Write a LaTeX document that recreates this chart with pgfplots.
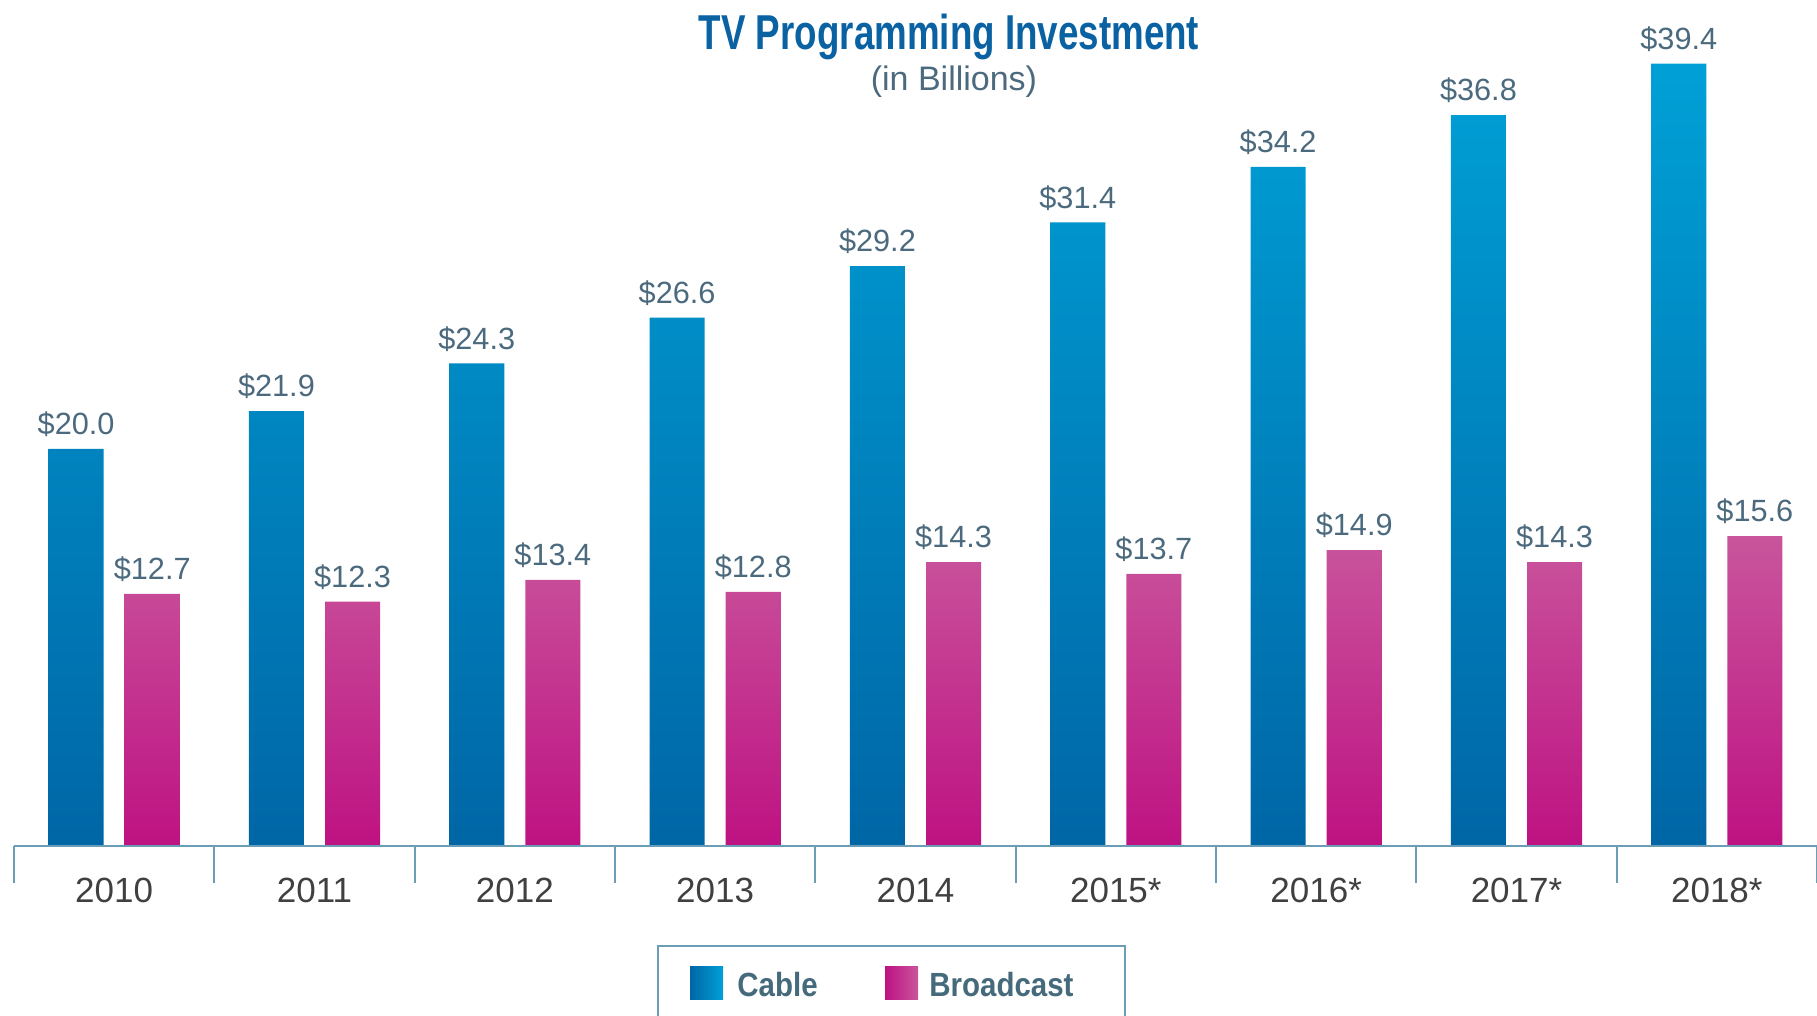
\documentclass[border=0pt]{standalone}
\usepackage{fontspec}
\setmainfont{Liberation Sans}
\newfontfamily\titlefont[FakeStretch=0.75]{Liberation Sans}
\newfontfamily\legendfont[FakeStretch=0.88]{Liberation Sans}
\usepackage{pgfplots}
\pgfplotsset{compat=1.18}

\definecolor{cabletop}{HTML}{00A0D6}
\definecolor{cablebot}{HTML}{0066A6}
\definecolor{bcasttop}{HTML}{C9559C}
\definecolor{bcastbot}{HTML}{BE1282}
\definecolor{axisblue}{HTML}{6B9DB6}
\definecolor{labelslate}{HTML}{4C6A7E}
\definecolor{yeargray}{HTML}{404040}
\definecolor{titleblue}{HTML}{0A62A3}
\definecolor{legendtext}{HTML}{456A7C}

\begin{document}
\begin{tikzpicture}
% 1 px of the reference = 0.5pt
\begin{axis}[
    at={(7pt,-423pt)}, anchor=south west,
    scale only axis, width=901.5pt, height=423pt,
    xmin=-0.5, xmax=8.5, ymin=0, ymax=42.6,
    axis x line=bottom, axis y line=none,
    axis line style={-, draw=axisblue, line width=1pt},
    xtick={-0.5,0.5,1.5,2.5,3.5,4.5,5.5,6.5,7.5,8.5},
    xticklabels={},
    ytick=\empty,
    major tick length=18.5pt, tick align=outside,
    tick style={draw=axisblue, line width=1pt},
    ybar, bar width=0.275,
    clip=false, axis on top,
    /pgf/number format/assume math mode=true,
    nodes near coords={\$\pgfmathprintnumber[fixed,fixed zerofill,precision=1]{\pgfplotspointmeta}},
    every node near coord/.append style={anchor=south, inner sep=0pt, text depth=0pt,
        yshift=7pt, font=\fontsize{15.35}{18}\selectfont, text=labelslate},
]
% Cable
\addplot[bar shift=-0.19, draw=none, top color=cabletop, bottom color=cablebot]
  coordinates {(0,20.0)(1,21.9)(2,24.3)(3,26.6)(4,29.2)(5,31.4)(6,34.2)(7,36.8)(8,39.4)};
% Broadcast
\addplot[bar shift=0.19, draw=none, top color=bcasttop, bottom color=bcastbot]
  coordinates {(0,12.7)(1,12.3)(2,13.4)(3,12.8)(4,14.3)(5,13.7)(6,14.9)(7,14.3)(8,15.6)};

\tikzset{yearlab/.style={anchor=base, font=\fontsize{17.5}{20}\selectfont, text=yeargray}}
\node[yearlab] at (axis cs:0,-2.82) {2010};
\node[yearlab] at (axis cs:1,-2.82) {2011};
\node[yearlab] at (axis cs:2,-2.82) {2012};
\node[yearlab] at (axis cs:3,-2.82) {2013};
\node[yearlab] at (axis cs:4,-2.82) {2014};
\node[yearlab] at (axis cs:5,-2.82) {2015*};
\node[yearlab] at (axis cs:6,-2.82) {2016*};
\node[yearlab] at (axis cs:7,-2.82) {2017*};
\node[yearlab] at (axis cs:8,-2.82) {2018*};
\end{axis}

\begin{scope}[x=0.5pt, y=-0.5pt]
  % title
  \node[anchor=base, inner sep=0pt, text=titleblue,
        font=\titlefont\bfseries\fontsize{24.5}{28}\selectfont] at (949,50) {TV Programming Investment};
  \node[anchor=base, inner sep=0pt, text=labelslate,
        font=\fontsize{17}{20}\selectfont] at (954,91) {(in Billions)};
  % legend
  \draw[axisblue, line width=0.85pt] (658,1030) -- (658,946) -- (1125,946) -- (1125,1030);
  \fill[left color=cablebot, right color=cabletop] (690,966) rectangle (723,999);
  \fill[left color=bcastbot, right color=bcasttop] (885,966) rectangle (918,999);
  \node[anchor=base west, inner sep=0pt, text=legendtext,
        font=\legendfont\bfseries\fontsize{16.75}{20}\selectfont] at (737,996) {Cable};
  \node[anchor=base west, inner sep=0pt, text=legendtext,
        font=\legendfont\bfseries\fontsize{16.75}{20}\selectfont] at (929,996) {Broadcast};
  \pgfresetboundingbox
  \path[use as bounding box] (0,0) rectangle (1817,1016);
\end{scope}
\end{tikzpicture}
\end{document}
